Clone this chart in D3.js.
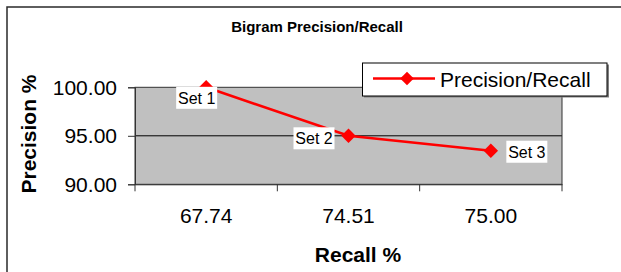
<!DOCTYPE html>
<html>
<head>
<meta charset="utf-8">
<script src="https://cdn.jsdelivr.net/npm/d3@7"></script>
<style>
  body { margin: 0; background: #fff; }
  text { font-family: "Liberation Sans", Arial, sans-serif; fill: #000; }
</style>
</head>
<body>
<svg id="chart" width="621" height="272"></svg>
<script>
// data
const categories = ["67.74", "74.51", "75.00"];
const setNames = ["Set 1", "Set 2", "Set 3"];
const precision = [100.0, 95.0, 93.46];
const yTicks = [90, 95, 100];

// where each data label box sits relative to its point
const labelOffset = [[-9.5, 10.5], [-34.5, 2.5], [36, 1]];

const svg = d3.select("#chart");
const plot = {left: 135, right: 562, top: 87.3, bottom: 184.3};

const x = d3.scaleBand()
  .domain(categories)
  .range([plot.left, plot.right]);
const y = d3.scaleLinear()
  .domain([90, 100])
  .range([plot.bottom, plot.top]);

// outer frame (right / bottom edge is cut off in the original)
svg.append("rect")
  .attr("x", 7).attr("y", 7)
  .attr("width", 640).attr("height", 300)
  .attr("fill", "none")
  .attr("stroke", "#2a2a2a")
  .attr("stroke-width", 1.5);

// plot area
svg.append("rect")
  .attr("x", plot.left).attr("y", plot.top)
  .attr("width", plot.right - plot.left)
  .attr("height", plot.bottom - plot.top)
  .attr("fill", "#c0c0c0");

svg.append("g")
  .selectAll("line")
  .data(yTicks.filter(d => d > 90 && d < 100)).enter()
  .append("line")
  .attr("x1", plot.left).attr("x2", plot.right)
  .attr("y1", d => y(d)).attr("y2", d => y(d))
  .attr("stroke", "#000").attr("stroke-width", 1);

svg.append("rect")
  .attr("x", plot.left).attr("y", plot.top)
  .attr("width", plot.right - plot.left)
  .attr("height", plot.bottom - plot.top)
  .attr("fill", "none")
  .attr("stroke", "#333").attr("stroke-width", 1);

// y axis
let yAxis = svg.append("g")
  .attr("transform", `translate(${plot.left},0)`)
  .call(d3.axisLeft(y).tickValues(yTicks).tickFormat(d3.format(".2f"))
    .tickSize(7).tickPadding(11));
yAxis.select(".domain").attr("stroke", "#333");
yAxis.selectAll(".tick line").attr("stroke", "#333");
yAxis.selectAll("text").attr("font-size", 21).attr("font-family", "Liberation Sans, Arial, sans-serif");

// x axis: labels at band centres, ticks at band edges
let xAxis = svg.append("g")
  .attr("transform", `translate(0,${plot.bottom})`)
  .call(d3.axisBottom(x).tickSize(0).tickPadding(24));
xAxis.select(".domain").attr("stroke", "#333");
xAxis.selectAll("text").attr("font-size", 21).attr("font-family", "Liberation Sans, Arial, sans-serif");

let edges = categories.map(c => x(c)).concat([x(categories[categories.length - 1]) + x.bandwidth()]);
svg.append("g")
  .selectAll("line")
  .data(edges).enter()
  .append("line")
  .attr("x1", d => d).attr("x2", d => d)
  .attr("y1", plot.bottom).attr("y2", plot.bottom + 7)
  .attr("stroke", "#333");

// titles
svg.append("text")
  .attr("x", 317).attr("y", 31.5)
  .attr("text-anchor", "middle")
  .attr("font-size", 15).attr("font-weight", "bold")
  .text("Bigram Precision/Recall");

svg.append("text")
  .attr("x", 358).attr("y", 261.5)
  .attr("text-anchor", "middle")
  .attr("font-size", 21).attr("font-weight", "bold")
  .text("Recall %");

svg.append("text")
  .attr("transform", "translate(36,134) rotate(-90)")
  .attr("text-anchor", "middle")
  .attr("font-size", 21).attr("font-weight", "bold")
  .text("Precision %");

// series
const pts = categories.map((c, i) => ({cat: c, val: precision[i], name: setNames[i], off: labelOffset[i]}));
const cx = d => x(d.cat) + x.bandwidth() / 2;
const diamond = (r) => `M0,${-r}L${r},0L0,${r}L${-r},0Z`;

svg.append("path")
  .datum(pts)
  .attr("d", d3.line().x(cx).y(d => y(d.val)))
  .attr("fill", "none")
  .attr("stroke", "#ff0000")
  .attr("stroke-width", 2.6);

svg.append("g")
  .selectAll("path")
  .data(pts).enter()
  .append("path")
  .attr("d", diamond(7.2))
  .attr("transform", d => `translate(${cx(d)},${y(d.val)})`)
  .attr("fill", "#ff0000");

// data labels with white boxes
let lab = svg.append("g")
  .selectAll("g")
  .data(pts).enter()
  .append("g")
  .attr("transform", d => `translate(${cx(d) + d.off[0]},${y(d.val) + d.off[1]})`);
lab.append("rect")
  .attr("x", -20.5).attr("y", -11)
  .attr("width", 41).attr("height", 22)
  .attr("fill", "#fff");
lab.append("text")
  .attr("text-anchor", "middle")
  .attr("y", 5.8)
  .attr("font-size", 16)
  .text(d => d.name);

// legend
let leg = svg.append("g");
leg.append("rect")
  .attr("x", 364).attr("y", 64.5)
  .attr("width", 245).attr("height", 33)
  .attr("fill", "#808080");
leg.append("rect")
  .attr("x", 362.5).attr("y", 63)
  .attr("width", 244.5).attr("height", 33)
  .attr("fill", "#fff")
  .attr("stroke", "#000").attr("stroke-width", 1);
leg.append("line")
  .attr("x1", 373).attr("x2", 435)
  .attr("y1", 78.5).attr("y2", 78.5)
  .attr("stroke", "#ff0000").attr("stroke-width", 2.6);
leg.append("path")
  .attr("d", diamond(6.8))
  .attr("transform", "translate(407,78.5)")
  .attr("fill", "#ff0000");
leg.append("text")
  .attr("x", 440).attr("y", 86.5)
  .attr("font-size", 21)
  .text("Precision/Recall");
</script>
</body>
</html>
